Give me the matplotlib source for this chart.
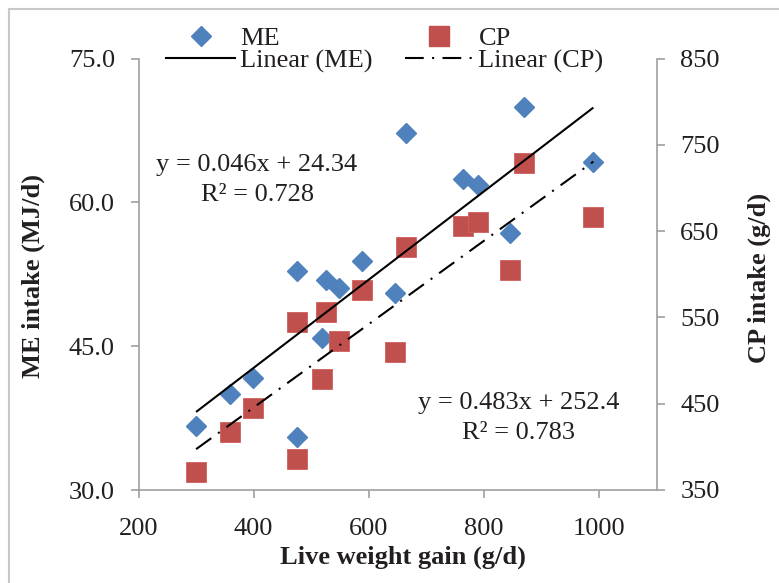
import matplotlib
matplotlib.use("Agg")
import matplotlib.pyplot as plt
from matplotlib.lines import Line2D
from matplotlib.patches import Rectangle
import numpy as np

plt.rcParams['font.family'] = ['Liberation Serif', 'DejaVu Serif']
plt.rcParams['font.size'] = 19

# ---- data ----
lwg = [300, 359, 399, 475, 475, 519, 526, 549, 589, 645, 665, 763, 789, 846, 870, 990]
me_intake = [36.7, 40.0, 41.7, 35.5, 52.8, 45.9, 51.9, 51.1, 53.9, 50.5, 67.2, 62.4, 61.8, 56.8, 69.9, 64.2]
cp_intake = [370.5, 417.6, 444.7, 385.6, 545.0, 478.3, 555.9, 522.7, 581.7, 509.9, 631.2, 655.9, 660.5, 604.6, 729.3, 666.0]

me_slope, me_intercept, me_r2 = 0.046, 24.34, 0.728
cp_slope, cp_intercept, cp_r2 = 0.483, 252.4, 0.783

x_ticks = [200, 400, 600, 800, 1000]
me_ticks = [30.0, 45.0, 60.0, 75.0]
cp_ticks = [350, 450, 550, 650, 750, 850]

W, H = 779, 583
blue = '#4f81bd'
red = '#c0504d'
spine_c = '#a0a0a0'
txt_c = '#231f20'

fig = plt.figure(figsize=(W / 100, H / 100), dpi=100)
L, R, T, B = 138.5, 656.7, 58.5, 490.0
ax = fig.add_axes([L / W, 1 - B / H, (R - L) / W, (B - T) / H])
ax2 = ax.twinx()

ax.set_xlim(200, 1100)
ax.set_ylim(30, 75)
ax2.set_ylim(350, 850)

# markers
ax.plot(lwg, me_intake, linestyle='none', marker='D', ms=10, color=blue,
        mec=blue, zorder=3)
ax.plot(lwg, cp_intake, linestyle='none', marker='s', ms=14.5, color=red,
        mec='#d0605d', mew=0.6, zorder=3, transform=ax2.transData)

# trendlines
xs = np.array([min(lwg), max(lwg)], dtype=float)
dashdot = (0, (9, 4, 1, 4))
ax.plot(xs, me_slope * xs + me_intercept, color='black', lw=1.5, zorder=4,
        solid_capstyle='butt')
ax.plot(xs, cp_slope * xs + cp_intercept, color='black', lw=1.5, zorder=4,
        linestyle=dashdot, transform=ax2.transData)

# axes styling
for a in (ax, ax2):
    for s in a.spines.values():
        s.set_color(spine_c)
        s.set_linewidth(1.2)
    a.spines['top'].set_visible(False)
ax.spines['right'].set_visible(False)
ax2.spines['left'].set_visible(False)
ax2.spines['bottom'].set_visible(False)

ax.set_xticks(x_ticks)
ax.set_xticklabels([str(v) for v in x_ticks])
ax.set_yticks(me_ticks)
ax.set_yticklabels([f'{v:.1f}' for v in me_ticks])
ax2.set_yticks(cp_ticks)
ax2.set_yticklabels([str(v) for v in cp_ticks])

ax.tick_params(axis='x', direction='out', length=6, width=1.2, color=spine_c,
               labelcolor=txt_c, labelsize=19, pad=14.5)
ax.tick_params(axis='y', direction='out', length=6, width=1.2, color=spine_c,
               labelcolor=txt_c, labelsize=19, pad=11)
ax2.tick_params(axis='y', direction='out', length=6, width=1.2, color=spine_c,
                labelcolor=txt_c, labelsize=19, pad=11)

ax.set_xlabel('Live weight gain (g/d)', fontweight='bold', color=txt_c, fontsize=19)
ax.set_ylabel('ME intake (MJ/d)', fontweight='bold', color=txt_c, fontsize=19)
ax2.set_ylabel('CP intake (g/d)', fontweight='bold', color=txt_c, fontsize=19)
ax.xaxis.label.set_va('center')
ax.yaxis.label.set_va('center')
ax2.yaxis.label.set_va('center')
ax.xaxis.set_label_coords((403 - L) / (R - L), (B - 557) / (B - T))
ax.yaxis.set_label_coords((33 - L) / (R - L), (B - 275.5) / (B - T))
ax2.yaxis.set_label_coords((759 - L) / (R - L), (B - 278) / (B - T))

# equations
fig.text(257 / W, 1 - 165 / H, f'y = {me_slope:.3f}x + {me_intercept:.2f}',
         ha='center', va='center', color=txt_c, fontsize=19)
fig.text(257.5 / W, 1 - 195 / H, f'R\u00b2 = {me_r2:.3f}',
         ha='center', va='center', color=txt_c, fontsize=19)
fig.text(518.5 / W, 1 - 403 / H, f'y = {cp_slope:.3f}x + {cp_intercept:.1f}',
         ha='center', va='center', color=txt_c, fontsize=19)
fig.text(518.5 / W, 1 - 433 / H, f'R\u00b2 = {cp_r2:.3f}',
         ha='center', va='center', color=txt_c, fontsize=19)

# legend
handles = [
    Line2D([], [], linestyle='none', marker='D', ms=10, color=blue),
    Line2D([], [], color='black', lw=1.5),
    Line2D([], [], linestyle='none', marker='s', ms=14.5, color=red),
    Line2D([], [], color='black', lw=1.5, linestyle=dashdot),
]
labels = ['ME', 'Linear (ME)', 'CP', 'Linear (CP)']
leg = fig.legend(handles, labels, ncol=2, loc='center',
                 bbox_to_anchor=(385 / W, 1 - 49.5 / H), frameon=False,
                 handlelength=2.6, handletextpad=0.2, columnspacing=1.2,
                 labelspacing=-0.05, borderpad=0, fontsize=19)
for t in leg.get_texts():
    t.set_color(txt_c)

# outer border
fig.add_artist(Rectangle((9 / W, -0.1), 1.2, 1.1 - 9 / H, transform=fig.transFigure,
                         fill=False, ec='#c8c8c8', lw=1.5))

fig.savefig('out.png', dpi=100)
